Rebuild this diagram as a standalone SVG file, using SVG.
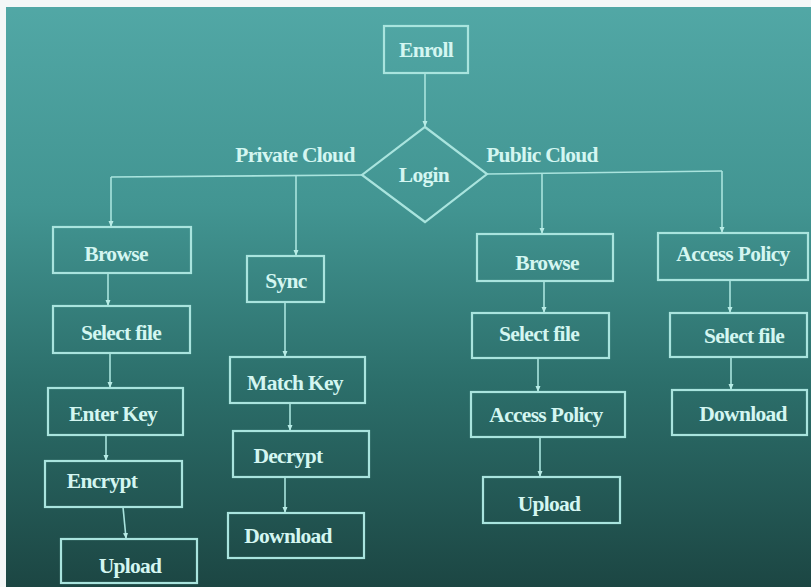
<svg xmlns="http://www.w3.org/2000/svg" width="811" height="587" viewBox="0 0 811 587">
<defs>
<linearGradient id="bg" x1="0" y1="0" x2="0" y2="1">
<stop offset="0" stop-color="#52a8a6"/>
<stop offset="0.35" stop-color="#429592"/>
<stop offset="0.65" stop-color="#2c6f6b"/>
<stop offset="1" stop-color="#1c4643"/>
</linearGradient>
<marker id="ah" viewBox="0 0 6 6" refX="5" refY="3" markerWidth="6" markerHeight="6" markerUnits="userSpaceOnUse" orient="auto">
<path d="M0,0.5 L6,3 L0,5.5 Z" fill="#b8ece6"/>
</marker>
<style>
.box{fill:none;stroke:#a9e4de;stroke-width:2.2}
.t{font-family:"Liberation Serif","Times New Roman",serif;font-weight:bold;font-size:21.5px;fill:#d4f6f1;text-anchor:middle;letter-spacing:-0.7px}
.c{fill:none;stroke:#a9e4de;stroke-width:1.6}
.ca{fill:none;stroke:#a9e4de;stroke-width:1.6;marker-end:url(#ah)}
</style>
</defs>
<rect x="0" y="0" width="811" height="587" fill="url(#bg)"/>
<rect x="0" y="0" width="811" height="7" fill="#f4f7f7"/>
<rect x="0" y="0" width="6" height="587" fill="#f4f7f7"/>

<g id="connectors">
<line class="ca" x1="425" y1="73" x2="425" y2="126"/>
<polyline class="c" points="362,175 111,177"/>
<polyline class="c" points="487,174 722,171"/>
<line class="ca" x1="111" y1="177" x2="111" y2="226"/>
<line class="ca" x1="296" y1="176" x2="296" y2="255"/>
<line class="ca" x1="542" y1="173" x2="542" y2="233"/>
<line class="ca" x1="722" y1="171" x2="722" y2="232"/>
<line class="ca" x1="108" y1="273" x2="108" y2="305"/>
<line class="ca" x1="110" y1="353" x2="110" y2="387"/>
<line class="ca" x1="106" y1="435" x2="106" y2="460"/>
<line class="ca" x1="123" y1="507" x2="126" y2="538"/>
<line class="ca" x1="285" y1="302" x2="285" y2="356"/>
<line class="ca" x1="290" y1="403" x2="290" y2="430"/>
<line class="ca" x1="285" y1="477" x2="285" y2="512"/>
<line class="ca" x1="544" y1="281" x2="544" y2="312"/>
<line class="ca" x1="538" y1="358" x2="538" y2="391"/>
<line class="ca" x1="540" y1="437" x2="540" y2="476"/>
<line class="ca" x1="730" y1="280" x2="730" y2="312"/>
<line class="ca" x1="731" y1="357" x2="731" y2="389"/>
</g>

<g id="enroll"><rect class="box" x="384" y="26" width="84" height="47"/><text class="t" x="426" y="57">Enroll</text></g>
<g id="login"><polygon class="box" points="425,127 487,174 425,222 362,175"/><text class="t" x="424" y="182">Login</text></g>
<g id="label-private"><text class="t" x="295" y="162">Private Cloud</text></g>
<g id="label-public"><text class="t" x="542" y="162">Public Cloud</text></g>

<g id="browse1"><rect class="box" x="53" y="227" width="138" height="46"/><text class="t" x="116" y="261">Browse</text></g>
<g id="select1"><rect class="box" x="53" y="306" width="137" height="47"/><text class="t" x="121" y="340">Select file</text></g>
<g id="enterkey"><rect class="box" x="48" y="388" width="135" height="47"/><text class="t" x="113" y="421">Enter Key</text></g>
<g id="encrypt"><rect class="box" x="45" y="461" width="137" height="46"/><text class="t" x="102" y="488">Encrypt</text></g>
<g id="upload1"><rect class="box" x="61" y="539" width="136" height="44"/><text class="t" x="130" y="573">Upload</text></g>

<g id="sync"><rect class="box" x="247" y="256" width="77" height="46"/><text class="t" x="286" y="288">Sync</text></g>
<g id="matchkey"><rect class="box" x="230" y="357" width="135" height="46"/><text class="t" x="295" y="390">Match Key</text></g>
<g id="decrypt"><rect class="box" x="233" y="431" width="136" height="46"/><text class="t" x="288" y="463">Decrypt</text></g>
<g id="download1"><rect class="box" x="228" y="513" width="136" height="45"/><text class="t" x="288" y="543">Download</text></g>

<g id="browse2"><rect class="box" x="477" y="234" width="136" height="47"/><text class="t" x="547" y="270">Browse</text></g>
<g id="select2"><rect class="box" x="472" y="313" width="137" height="45"/><text class="t" x="539" y="341">Select file</text></g>
<g id="access2"><rect class="box" x="471" y="392" width="154" height="45"/><text class="t" x="546" y="422">Access Policy</text></g>
<g id="upload2"><rect class="box" x="483" y="477" width="137" height="46"/><text class="t" x="549" y="511">Upload</text></g>

<g id="access1"><rect class="box" x="658" y="233" width="150" height="47"/><text class="t" x="733" y="261">Access Policy</text></g>
<g id="select3"><rect class="box" x="670" y="313" width="137" height="44"/><text class="t" x="744" y="343">Select file</text></g>
<g id="download2"><rect class="box" x="672" y="390" width="135" height="45"/><text class="t" x="743" y="421">Download</text></g>
</svg>
